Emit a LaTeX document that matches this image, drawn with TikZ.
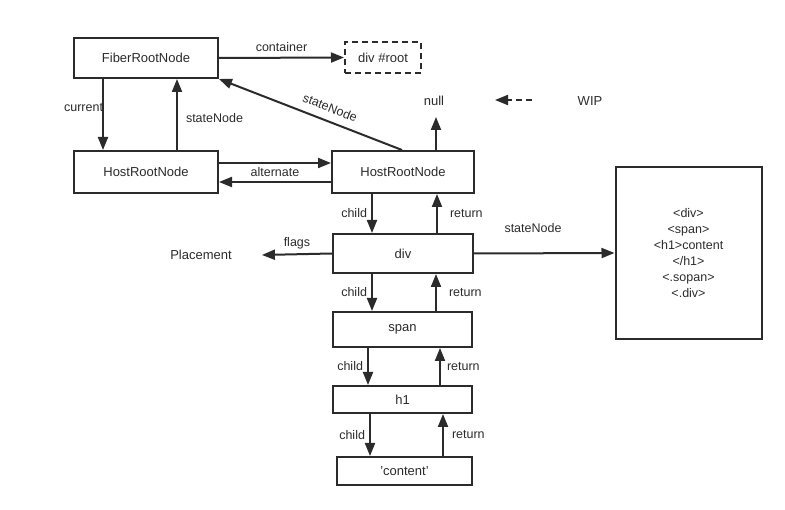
\documentclass[tikz,border=0pt]{standalone}
\usepackage{fontspec}
\setmainfont{Liberation Sans}
\usetikzlibrary{arrows.meta,positioning,calc}
\definecolor{ink}{HTML}{2B2B2B}

\begin{document}
\begin{tikzpicture}[
  x=1pt, y=-1pt,
  font=\fontsize{13}{15}\selectfont, text=ink,
  box/.style={draw=ink, line width=2pt, inner sep=0pt, align=center},
  ar/.style={-{Triangle[length=13pt, width=10pt]}, draw=ink, line width=2pt},
  ra/.style={{Triangle[length=13pt, width=10pt]}-, draw=ink, line width=2pt},
  wipline/.style={dash pattern=on 6pt off 4pt},
  lbl/.style={font=\fontsize{12.5}{14}\selectfont, inner sep=2pt}
]
  \useasboundingbox (0,0) rectangle (785,510);
  \node[box, minimum width=144pt, minimum height=40pt] (fiber) at (146,58) {FiberRootNode};
  \node[box, wipline, minimum width=76pt, minimum height=31pt] (root) at (383,57.5) {div \#root};
  \node[box, minimum width=144pt, minimum height=42pt] (hostL) at (146,172) {HostRootNode};
  \node[box, minimum width=142pt, minimum height=42pt] (hostR) at (403,172) {HostRootNode};
  \node[box, minimum width=140pt, minimum height=39pt] (div) at (403,253.5) {div};
  \node[box, minimum width=139pt, minimum height=35pt] (span) at (402.5,329.5) {span};
  \node[box, minimum width=139pt, minimum height=27pt] (h1) at (402.5,399.5) {h1};
  \node[box, minimum width=135pt, minimum height=28pt] (content) at (404.5,471) {'content'};
  \node[box, minimum width=146pt, minimum height=172pt, font=\fontsize{12.5}{16}\selectfont]
    (html) at (688.5,253)
    {<div>\\<span>\\<h1>content\\</h1>\\<.sopan>\\<.div>};
  \node[inner sep=0pt] (null) at (434,101) {null};
  \node[inner sep=0pt] (place) at (201,255) {Placement};
  \node[inner sep=0pt] (wip) at (590,101) {WIP};
  \coordinate (wipA) at (532,100);
  \coordinate (wipB) at (495,100);

  \draw[ar] (fiber.east) -- (root.west)
    node[lbl, midway, above=3pt] {container};
  \draw[ar] ([xshift=30pt]fiber.south west) -- ([xshift=30pt]hostL.north west)
    node[lbl, pos=0.4, left=-3pt] {current};
  \draw[ar] ([xshift=104pt]hostL.north west) -- ([xshift=104pt]fiber.south west)
    node[lbl, pos=0.45, right=6pt] {stateNode};
  \draw[ar] ([yshift=9pt]hostL.east) -- ([yshift=9pt]hostR.west)
    node[lbl, midway, below=1pt] {alternate};
  \draw[ar] ([yshift=-10pt]hostR.west) -- ([yshift=-10pt]hostL.east);
  \draw[ra] (fiber.south east) -- ([xshift=-1pt]hostR.north)
    node[lbl, pos=0.58, rotate=-21.5, anchor=south, inner sep=8pt] {stateNode};
  \draw[ar] ([xshift=33pt]hostR.north) -- ([yshift=-11pt]null.south -| {$([xshift=33pt]hostR.north)$});
  \draw[ar, wipline] (wipA) -- (wipB);

  \draw[ar] ([xshift=41pt]hostR.south west) -- ([xshift=41pt]hostR.south west |- div.north)
    node[lbl, midway, left=2pt] {child};
  \draw[ar] ([xshift=105pt]div.north west) -- ([xshift=105pt]div.north west |- hostR.south)
    node[lbl, midway, right=10pt] {return};
  \draw[ar] (div.west) -- ([xshift=30pt]place.east)
    node[lbl, midway, above=2pt] {flags};
  \draw[ar] (div.east) -- (html.west)
    node[lbl, pos=0.42, above=18pt] {stateNode};

  \draw[ar] ([xshift=40pt]div.south west) -- ([xshift=40pt]div.south west |- span.north)
    node[lbl, midway, left=2pt] {child};
  \draw[ar] ([xshift=104pt]span.north west) -- ([xshift=104pt]span.north west |- div.south)
    node[lbl, midway, right=10pt] {return};

  \draw[ar] ([xshift=36pt]span.south west) -- ([xshift=36pt]span.south west |- h1.north)
    node[lbl, midway, left=2pt] {child};
  \draw[ar] ([xshift=108pt]h1.north west) -- ([xshift=108pt]h1.north west |- span.south)
    node[lbl, midway, right=4pt] {return};

  \draw[ar] ([xshift=38pt]h1.south west) -- ([xshift=38pt]h1.south west |- content.north)
    node[lbl, midway, left=2pt] {child};
  \draw[ar] ([xshift=107pt]content.north west) -- ([xshift=107pt]content.north west |- h1.south)
    node[lbl, midway, right=6pt] {return};
\end{tikzpicture}
\end{document}
